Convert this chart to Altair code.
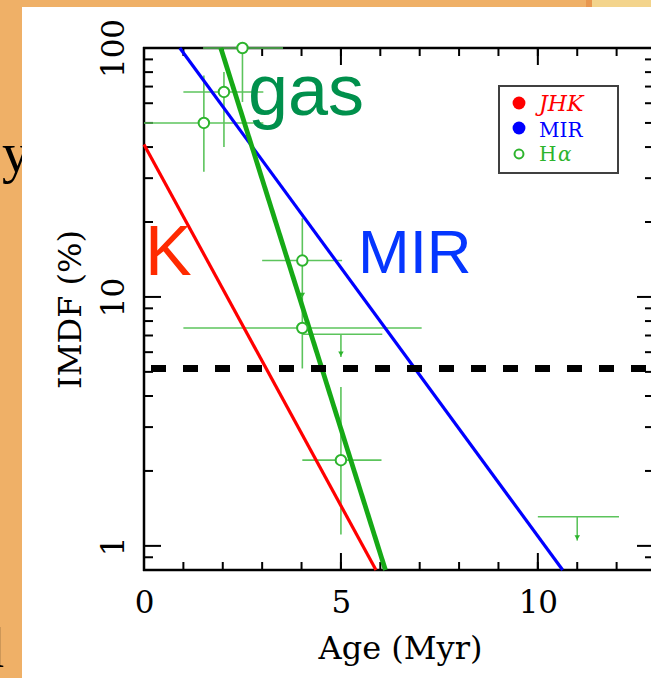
import altair as alt
import pandas as pd

# ---------------- data ----------------
red_age = [0.0, 5.89]
red_imdf = [41.0, 0.8]
blue_age = [0.91, 10.63]
blue_imdf = [100.0, 0.8]
green_age = [1.95, 6.13]
green_imdf = [100.0, 0.8]

ha_age = [2.5, 2.03, 1.52, 4.02, 4.02, 5.0]
ha_imdf = [100.0, 66.6, 50.0, 14.0, 7.5, 2.21]
ha_age_lo = [1.5, 1.0, 0.0, 3.0, 1.0, 4.02]
ha_age_hi = [3.53, 3.03, 3.03, 5.03, 7.05, 6.03]
ha_imdf_lo = [60.7, 40.0, 31.8, 9.5, 5.16, 1.11]
ha_imdf_hi = [100.0, 80.0, 77.6, 20.7, 9.5, 4.35]

ul_age = [5.0, 11.0]
ul_imdf = [7.08, 1.31]
ul_age_lo = [4.02, 10.0]
ul_age_hi = [6.05, 12.06]
ul_imdf_end = [5.74, 1.05]

arrow_age = [5.0, 11.0, 4.02]
arrow_imdf = [5.74, 1.05, 9.9]

threshold = [5.16]

x_minor = list(range(0, 14))
x_major = [0, 5, 10]
y_minor = [0.9, 2, 3, 4, 5, 6, 7, 8, 9, 20, 30, 40, 50, 60, 70, 80, 90]
y_major = [1, 10, 100]

# ---------------- layout ----------------
W, H = 507, 522          # visible plot area (x from 144 to 651, y from 48 to 570)
XR = 512                 # pixel position of Age = 13 (right frame, just outside window)
SERIF = "DejaVu Serif"
SANS = "Liberation Sans"
GREEN_LINE = "#16a916"
GREEN_PT = "#2db42d"
GREEN_ERR = "#5cc45c"

xscale = alt.Scale(domain=[0, 13], range=[0, XR], nice=False, zero=False)
yscale = alt.Scale(type="log", domain=[0.8, 100], nice=False)

xaxis = alt.Axis(values=x_major, format="d", domain=False, ticks=False, tickSize=0, grid=False,
                 labelFont=SERIF, labelFontSize=31, labelColor="black", labelFlush=False,
                 labelBaseline="alphabetic", labelPadding=42, zindex=2,
                 title="Age (Myr)", titleFont=SERIF, titleFontSize=32, titleFontWeight="normal",
                 titleColor="black", titleX=256, titleY=88, titleAlign="center",
                 titleBaseline="alphabetic")
yaxis = alt.Axis(values=y_major, format="d", domain=False, ticks=False, tickSize=0, grid=False,
                 labelFont=SERIF, labelFontSize=31, labelColor="black", labelAngle=270,
                 labelFlush=False,
                 labelAlign="center", labelBaseline="alphabetic", labelPadding=21, zindex=2,
                 title="IMDF (%)", titleFont=SERIF, titleFontSize=32, titleFontWeight="normal",
                 titleColor="black", titleX=-64, titleY=H / 2, titleAngle=270,
                 titleAlign="center", titleBaseline="alphabetic")


def X(f):
    return alt.X(f"{f}:Q", scale=xscale, axis=xaxis)


def Y(f):
    return alt.Y(f"{f}:Q", scale=yscale, axis=yaxis)


one = pd.DataFrame({"k": [0]})


def box(x1, x2, y1, y2, **kw):
    return alt.Chart(one).mark_rect(**kw).encode(
        x=alt.value(x1), x2=alt.value(x2), y=alt.value(y1), y2=alt.value(y2))


def label(text, x, y, **kw):
    return alt.Chart(pd.DataFrame({"t": [text]})).mark_text(**kw).encode(
        text="t:N", x=alt.value(x), y=alt.value(y))


layers = []

# background text peeking from the slide behind, then the white panel
layers.append(label("y", -142, 124, font="Liberation Serif", fontSize=56, align="left",
                    baseline="alphabetic", color="black"))
layers.append(label("d", -168, 619, font="Liberation Serif", fontSize=56, align="left",
                    baseline="alphabetic", color="black"))
layers.append(box(-122, W + 20, -41, H + 130, color="white"))
layers.append(box(442, 448, -48, -41, color="#e8974f"))
layers.append(box(448, W + 20, -48, -41, color="#f3d48c"))

# frame
layers.append(alt.Chart(one).mark_rule(color="black", strokeWidth=2.5).encode(
    x=alt.value(0), y=alt.value(-1), y2=alt.value(H + 1)))
layers.append(alt.Chart(one).mark_rule(color="black", strokeWidth=2.5).encode(
    x=alt.value(-1), x2=alt.value(W + 10), y=alt.value(0)))
layers.append(alt.Chart(one).mark_rule(color="black", strokeWidth=2.5).encode(
    x=alt.value(-1), x2=alt.value(W + 10), y=alt.value(H)))

# inward ticks
for vals, ln in [(x_minor, 8), (x_major, 17)]:
    d = pd.DataFrame({"v": vals})
    layers.append(alt.Chart(d).mark_rule(color="black", strokeWidth=2).encode(
        x=X("v"), y=alt.value(H), y2=alt.value(H - ln)))
    layers.append(alt.Chart(d).mark_rule(color="black", strokeWidth=2).encode(
        x=X("v"), y=alt.value(0), y2=alt.value(ln)))
for vals, ln in [(y_minor, 9), (y_major, 17)]:
    d = pd.DataFrame({"v": vals})
    layers.append(alt.Chart(d).mark_rule(color="black", strokeWidth=2).encode(
        y=Y("v"), x=alt.value(0), x2=alt.value(ln)))
    layers.append(alt.Chart(d).mark_rule(color="black", strokeWidth=2).encode(
        y=Y("v"), x=alt.value(XR - 2), x2=alt.value(XR - 2 - ln)))

# error bars for H-alpha points
ha = pd.DataFrame({"age": ha_age, "imdf": ha_imdf, "alo": ha_age_lo, "ahi": ha_age_hi,
                   "ilo": ha_imdf_lo, "ihi": ha_imdf_hi})
layers.append(alt.Chart(ha).mark_rule(color=GREEN_ERR, strokeWidth=1.6).encode(
    x=X("alo"), x2="ahi:Q", y=Y("imdf")))
layers.append(alt.Chart(ha).mark_rule(color=GREEN_ERR, strokeWidth=1.6).encode(
    x=X("age"), y=Y("ilo"), y2="ihi:Q"))

ul = pd.DataFrame({"age": ul_age, "imdf": ul_imdf, "alo": ul_age_lo, "ahi": ul_age_hi,
                   "iend": ul_imdf_end})
layers.append(alt.Chart(ul).mark_rule(color=GREEN_ERR, strokeWidth=1.6).encode(
    x=X("alo"), x2="ahi:Q", y=Y("imdf")))
layers.append(alt.Chart(ul).mark_rule(color=GREEN_ERR, strokeWidth=1.6).encode(
    x=X("age"), y=Y("iend"), y2="imdf:Q"))
arr = pd.DataFrame({"age": arrow_age, "imdf": arrow_imdf})
layers.append(alt.Chart(arr).mark_point(shape="triangle-down", filled=True, color=GREEN_PT,
                                        size=30, opacity=1, yOffset=-3).encode(
    x=X("age"), y=Y("imdf")))

# model lines
for ages, vals, col, sw in [(red_age, red_imdf, "#ff0000", 3.2), (blue_age, blue_imdf, "#0000ff", 3.2),
                            (green_age, green_imdf, GREEN_LINE, 4.8)]:
    d = pd.DataFrame({"age": ages, "imdf": vals})
    layers.append(alt.Chart(d).mark_line(color=col, strokeWidth=sw).encode(
        x=X("age"), y=Y("imdf")))

# H-alpha open circles
layers.append(alt.Chart(ha).mark_point(shape="circle", filled=True, fill="white", stroke=GREEN_PT,
                                       strokeWidth=2, size=110, opacity=1).encode(
    x=X("age"), y=Y("imdf")))

# threshold dashed line
thr = pd.DataFrame({"imdf": threshold})
layers.append(alt.Chart(thr).mark_rule(color="black", strokeWidth=7, strokeDash=[15, 17],
                                       strokeDashOffset=25).encode(
    y=Y("imdf"), x=alt.value(0), x2=alt.value(W + 5)))

# big annotations
layers.append(label("gas", 104, 67, font=SANS, fontSize=72, align="left", baseline="alphabetic",
                    color="#00904c"))
layers.append(label("K", 1, 227, font=SANS, fontSize=70, align="left", baseline="alphabetic",
                    color="#ff2a00"))
layers.append(label("MIR", 214, 225, font=SANS, fontSize=62, align="left", baseline="alphabetic",
                    color="#0536ff"))

# legend
layers.append(box(355, 474, 38, 125, fill="white", stroke="#404040", strokeWidth=2))
layers.append(alt.Chart(one).mark_point(shape="circle", filled=True, color="#ff0000", size=165,
                                        opacity=1).encode(x=alt.value(375), y=alt.value(55)))
layers.append(alt.Chart(one).mark_point(shape="circle", filled=True, color="#0000ff", size=165,
                                        opacity=1).encode(x=alt.value(375), y=alt.value(80)))
layers.append(alt.Chart(one).mark_point(shape="circle", filled=False, color=GREEN_PT, size=80,
                                        strokeWidth=2, opacity=1).encode(x=alt.value(375), y=alt.value(106)))
layers.append(label("JHK", 395, 63, font=SERIF, fontSize=22, fontStyle="italic", align="left",
                    baseline="alphabetic", color="#ff0000"))
layers.append(label("MIR", 395, 89, font=SERIF, fontSize=20, align="left",
                    baseline="alphabetic", color="#0000ff"))
layers.append(label("H", 395, 113, font=SERIF, fontSize=20, align="left",
                    baseline="alphabetic", color=GREEN_PT))
layers.append(label("α", 414, 113, font=SERIF, fontSize=20, fontStyle="italic", align="left",
                    baseline="alphabetic", color=GREEN_PT))

chart = alt.layer(*layers).properties(
    width=W, height=H,
    padding={"left": 144, "top": 48, "right": 0, "bottom": 108},
    autosize="none",
    background="#efb067",
).configure_view(stroke=None)

chart.save("out.html", embed_options={"renderer": "svg", "actions": False})
